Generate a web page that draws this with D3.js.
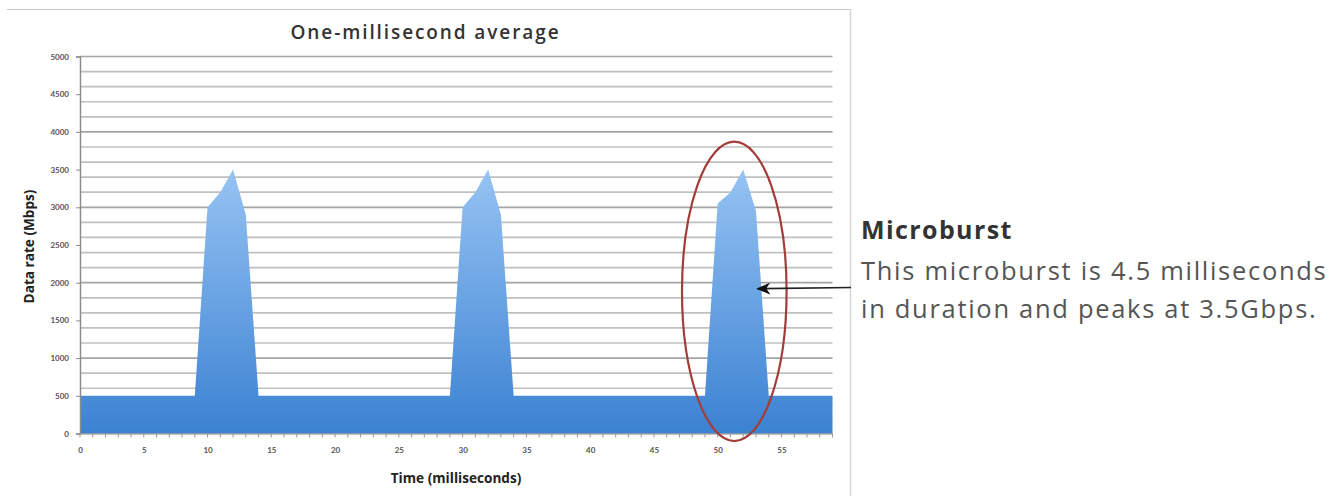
<!DOCTYPE html>
<html><head><meta charset="utf-8">
<script src="https://cdn.jsdelivr.net/npm/d3@7"></script>
<style>body{margin:0;background:#fff;} svg{display:block}</style>
</head><body><svg id="c" width="1339" height="496"></svg>
<script>
// ---- data ----
const times = [0,1,2,3,4,5,6,7,8,9,10,11,12,13,14,15,16,17,18,19,
  20,21,22,23,24,25,26,27,28,29,30,31,32,33,34,35,36,37,38,39,
  40,41,42,43,44,45,46,47,48,49,50,51,52,53,54,55,56,57,58,59];
const dataRate = [500,500,500,500,500,500,500,500,500,500,3000,3200,3500,2900,500,500,500,500,500,500,
  500,500,500,500,500,500,500,500,500,500,3000,3200,3500,2900,500,500,500,500,500,500,
  500,500,500,500,500,500,500,500,500,500,3050,3200,3500,2950,500,500,500,500,500,500];
const yTicks = [0,500,1000,1500,2000,2500,3000,3500,4000,4500,5000];
const xTicks = [0,5,10,15,20,25,30,35,40,45,50,55];
const title = "One-millisecond average";
const xTitle = "Time (milliseconds)";
const yTitle = "Data rate (Mbps)";
const noteTitle = "Microburst";
const noteLines = ["This microburst is 4.5 milliseconds", "in duration and peaks at 3.5Gbps."];

// ---- drawing ----
const svg = d3.select("#c");
const x = d3.scaleLinear().domain([0,59]).range([80,832.5]);
const y = d3.scaleLinear().domain([0,5000]).range([433.5,56.5]);

// chart frame
svg.append("line").attr("x1",7).attr("x2",851).attr("y1",9.5).attr("y2",9.5).attr("stroke","#c8c8c8").attr("stroke-width",1);
svg.append("line").attr("x1",850.5).attr("x2",850.5).attr("y1",9).attr("y2",496).attr("stroke","#d6d6d6").attr("stroke-width",1.5);

// gridlines (major and minor)
const minor = y.ticks(20);
svg.append("g").selectAll("line").data(minor).join("line")
  .attr("x1",x(0)).attr("x2",x(59))
  .attr("y1",d=>y(d)).attr("y2",d=>y(d))
  .attr("stroke",d=>d%500===0?"#a4a4a4":"#c0c0c0")
  .attr("stroke-width",1.7);

// gradient
const defs = svg.append("defs");
const grad = defs.append("linearGradient").attr("id","g1")
  .attr("gradientUnits","userSpaceOnUse")
  .attr("x1",0).attr("x2",0).attr("y1",y(3500)).attr("y2",y(0));
grad.append("stop").attr("offset","0%").attr("stop-color","#96c3f3");
grad.append("stop").attr("offset","100%").attr("stop-color","#3b82d2");

const pts = times.map((t,i)=>({t, v:dataRate[i]}));
const area = d3.area().x(d=>x(d.t)).y0(y(0)).y1(d=>y(d.v));
svg.append("path").datum(pts).attr("d",area).attr("fill","url(#g1)");

// y axis
const yAxis = svg.append("g").attr("transform",`translate(${x(0)},0)`)
  .call(d3.axisLeft(y).tickValues(yTicks).tickSize(4).tickPadding(7).tickFormat(d3.format("d")));
yAxis.select(".domain").attr("stroke","#8c8c8c").attr("stroke-width",1.5);
yAxis.selectAll(".tick line").attr("stroke","#8c8c8c");
yAxis.selectAll("text").attr("font-family","Lato, 'Open Sans', sans-serif").attr("font-size",8).attr("font-weight",700).attr("fill","#555");

// x axis minor ticks
svg.append("g").selectAll("line").data(times).join("line")
  .attr("x1",d=>x(d)).attr("x2",d=>x(d)).attr("y1",y(0)).attr("y2",y(0)+4)
  .attr("stroke","#9a9a9a").attr("stroke-width",1);
const xAxis = svg.append("g").attr("transform",`translate(0,${y(0)})`)
  .call(d3.axisBottom(x).tickValues(xTicks).tickSize(0).tickPadding(14).tickFormat(d3.format("d")));
xAxis.select(".domain").attr("stroke","#9a9a9a");
xAxis.selectAll("text").attr("font-family","Lato, 'Open Sans', sans-serif").attr("font-size",8).attr("font-weight",700).attr("fill","#555");

// titles
svg.append("text").attr("x",425.5).attr("y",39).attr("text-anchor","middle")
  .attr("font-family","'Open Sans', sans-serif").attr("font-weight",600).attr("font-size",19)
  .attr("letter-spacing",1.9).attr("fill","#333").text(title);
svg.append("text").attr("x",456).attr("y",483).attr("text-anchor","middle")
  .attr("font-family","'Open Sans', sans-serif").attr("font-weight",700).attr("font-size",13.6)
  .attr("fill","#222").text(xTitle);
svg.append("text").attr("transform","translate(34,246.5) rotate(-90)").attr("text-anchor","middle")
  .attr("font-family","'Open Sans', sans-serif").attr("font-weight",700).attr("font-size",13.6)
  .attr("fill","#222").text(yTitle);

// ellipse annotation
const cx = x(51.3), cy = y(1885);
svg.append("ellipse").attr("cx",cx).attr("cy",cy)
  .attr("rx",x(55.4)-x(51.3)).attr("ry",y(0)-y(1985))
  .attr("fill","none").attr("stroke","#a33d3a").attr("stroke-width",2.2);

// arrow
defs.append("marker").attr("id","ah").attr("viewBox","0 0 14 12").attr("refX",13).attr("refY",6)
  .attr("markerWidth",14).attr("markerHeight",12).attr("markerUnits","userSpaceOnUse").attr("orient","auto")
  .append("path").attr("d","M0,0 L14,6 L0,12 L4,6 Z").attr("fill","#111");
svg.append("line").attr("x1",851).attr("y1",287.5).attr("x2",x(53.1)).attr("y2",y(1920))
  .attr("stroke","#222").attr("stroke-width",1.6).attr("marker-end","url(#ah)");

// note text
svg.append("text").attr("x",861).attr("y",239).attr("font-family","'Open Sans', sans-serif")
  .attr("font-weight",700).attr("font-size",25).attr("letter-spacing",1.4).attr("fill","#333").text(noteTitle);
svg.append("g").selectAll("text").data(noteLines).join("text")
  .attr("x",861).attr("y",(d,i)=>279.5+i*38.5).attr("font-family","'Open Sans', sans-serif")
  .attr("font-size",25.5).attr("letter-spacing",1.7).attr("fill","#555").text(d=>d);
</script></body></html>
